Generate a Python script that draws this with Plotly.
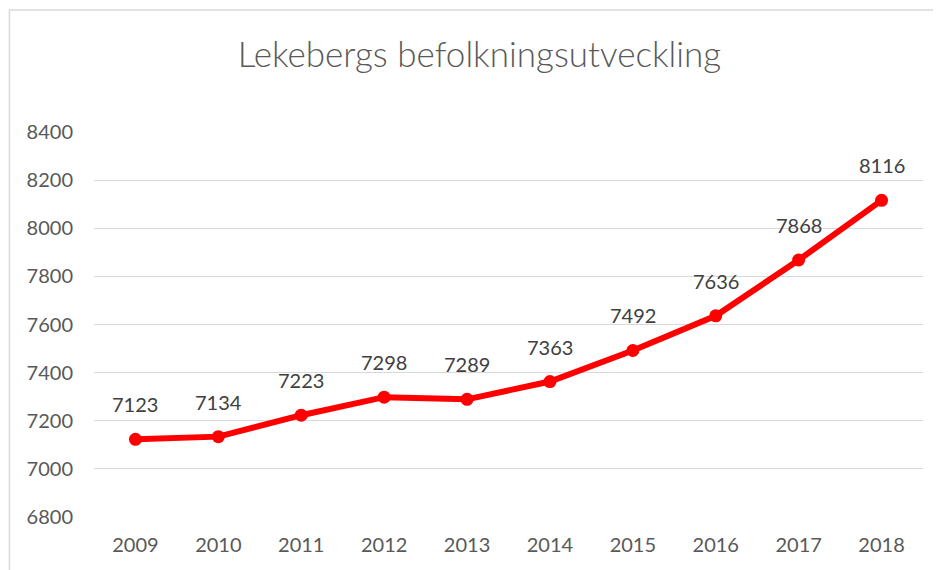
## Lekebergs befolkningsutveckling - line chart

import plotly.graph_objects as go

# Data
years = ['2009', '2010', '2011', '2012', '2013', '2014', '2015', '2016', '2017', '2018']
population = [7123, 7134, 7223, 7298, 7289, 7363, 7492, 7636, 7868, 8116]
y_ticks = [6800, 7000, 7200, 7400, 7600, 7800, 8000, 8200, 8400]

fig = go.Figure()

fig.add_trace(
    go.Scatter(
        x=years,
        y=population,
        mode="lines+markers",
        line=dict(color="#FF0000", width=6),
        marker=dict(color="#FF0000", size=13),
        showlegend=False,
        cliponaxis=False
    )
)

# Data labels above each point (x given as category index)
for i, val in enumerate(population):
    fig.add_annotation(
        x=i, y=val, text=str(val),
        showarrow=False, yshift=35,
        font=dict(family="Lato, sans-serif", size=20, color="#404040")
    )

# Chart border (cropped at right and bottom like the original)
fig.add_shape(
    type="rect", xref="paper", yref="paper",
    x0=-0.102, x1=1.03, y0=-0.3, y1=1.317,
    line=dict(color="#d9d9d9", width=1.5),
    fillcolor="rgba(0,0,0,0)", layer="below"
)

fig.update_layout(
    width=941, height=570,
    paper_bgcolor="white",
    plot_bgcolor="white",
    title=dict(
        text="Lekebergs befolkningsutveckling",
        x=0.501, xanchor="center", xref="container",
        y=0.9175, yanchor="middle", yref="container",
        font=dict(family="Lato, sans-serif", size=35, color="#595959", weight=300)
    ),
    font=dict(family="Lato, sans-serif", size=20, color="#595959"),
    margin=dict(l=85.5, r=25.5, t=124, b=61),
    xaxis=dict(
        type="category",
        range=[-0.5, len(years) - 0.5],
        showgrid=False, zeroline=False,
        showline=False, ticks="",
        ticklabelstandoff=14,
        tickfont=dict(size=20, color="#595959")
    ),
    yaxis=dict(
        range=[6800, 8400],
        tickvals=y_ticks,
        showgrid=True, gridcolor="#d9d9d9", gridwidth=1,
        zeroline=False, showline=False, ticks="",
        ticklabelstandoff=20,
        tickfont=dict(size=20, color="#595959")
    )
)

fig.write_html("out.html")
